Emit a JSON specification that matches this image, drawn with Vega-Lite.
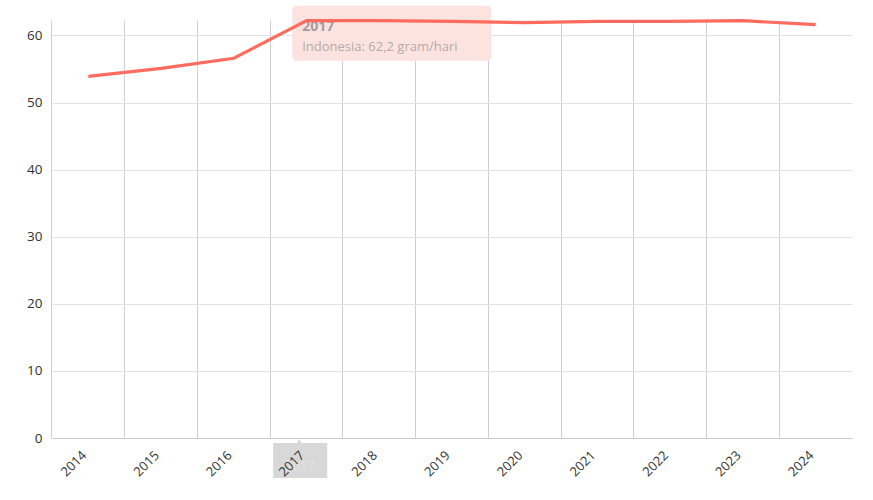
{
  "$schema": "https://vega.github.io/schema/vega-lite/v6.json",
  "width": 800,
  "height": 418,
  "autosize": {"type": "none"},
  "padding": {"left": 52, "top": 20, "right": 21, "bottom": 62},
  "config": {
    "view": {"stroke": null},
    "font": "Open Sans",
    "axis": {"labelFont": "Open Sans", "labelColor": "#333333", "labelFontSize": 13, "title": null}
  },
  "datasets": {
    "series": [
      {"year": "2014", "value": 53.9},
      {"year": "2015", "value": 55.1},
      {"year": "2016", "value": 56.6},
      {"year": "2017", "value": 62.2},
      {"year": "2018", "value": 62.2},
      {"year": "2019", "value": 62.1},
      {"year": "2020", "value": 61.9},
      {"year": "2021", "value": 62.1},
      {"year": "2022", "value": 62.1},
      {"year": "2023", "value": 62.2},
      {"year": "2024", "value": 61.6}
    ],
    "tip": [
      {"year": "2017", "value": 62.2, "title": "2017", "label": "Indonesia: 62,2 gram/hari"}
    ]
  },
  "layer": [
    {
      "data": {"name": "series"},
      "mark": {"type": "line", "opacity": 0},
      "encoding": {
        "x": {"field": "year", "type": "ordinal", "scale": {"paddingInner": 0, "paddingOuter": 0},
          "axis": {"title": null, "labels": false, "ticks": false, "domain": false, "grid": true,
            "bandPosition": 0, "gridColor": "#d0d0d0", "zindex": 0}},
        "y": {"field": "value", "type": "quantitative", "scale": {"domain": [0, 62.3], "nice": false},
          "axis": {"title": null, "values": [0, 10, 20, 30, 40, 50, 60], "ticks": false, "domain": false,
            "gridColor": "#e2e2e2", "labelPadding": 10, "labelFontSize": 13.5}}
      }
    },
    {
      "data": {"name": "tip"},
      "mark": {"type": "rect", "fill": "#fde3e0", "cornerRadius": 4, "xOffset": 22, "x2Offset": 221, "yOffset": -15, "y2Offset": 40, "clip": false},
      "encoding": {
        "x": {"field": "year", "type": "ordinal", "bandPosition": 0, "axis": null},
        "x2": {"field": "year", "bandPosition": 0},
        "y": {"field": "value", "type": "quantitative"},
        "y2": {"field": "value"}
      }
    },
    {
      "data": {"name": "tip"},
      "mark": {"type": "text", "align": "left", "baseline": "alphabetic", "dx": 32, "dy": 10, "fontWeight": "bold", "fontSize": 14, "color": "#a39b9b"},
      "encoding": {
        "x": {"field": "year", "type": "ordinal", "bandPosition": 0, "axis": null},
        "y": {"field": "value", "type": "quantitative"},
        "text": {"field": "title"}
      }
    },
    {
      "data": {"name": "tip"},
      "mark": {"type": "text", "align": "left", "baseline": "alphabetic", "dx": 32, "dy": 30, "fontSize": 13, "color": "#b4aaaa"},
      "encoding": {
        "x": {"field": "year", "type": "ordinal", "bandPosition": 0, "axis": null},
        "y": {"field": "value", "type": "quantitative"},
        "text": {"field": "label"}
      }
    },
    {
      "data": {"name": "series"},
      "mark": {"type": "line", "color": "#ff6b5e", "strokeWidth": 3.2, "interpolate": "linear", "clip": false},
      "encoding": {
        "x": {"field": "year", "type": "ordinal", "axis": null},
        "y": {"field": "value", "type": "quantitative"}
      }
    },
    {
      "data": {"name": "tip"},
      "mark": {"type": "rect", "fill": "#d8d8d8", "xOffset": 3, "x2Offset": 57, "clip": false},
      "encoding": {
        "x": {"field": "year", "type": "ordinal", "bandPosition": 0, "axis": null},
        "x2": {"field": "year", "bandPosition": 0},
        "y": {"datum": -0.75, "type": "quantitative"},
        "y2": {"datum": -5.95}
      }
    },
    {
      "data": {"name": "tip"},
      "mark": {"type": "point", "shape": "triangle-up", "filled": true, "fill": "#d8d8d8", "opacity": 1, "size": 30, "yOffset": 3.5, "clip": false},
      "encoding": {
        "x": {"field": "year", "type": "ordinal", "bandPosition": 0.4, "axis": null},
        "y": {"datum": 0, "type": "quantitative"}
      }
    },
    {
      "data": {"name": "tip"},
      "mark": {"type": "text", "align": "center", "baseline": "alphabetic", "fontSize": 13, "color": "#e4e4e4", "clip": false},
      "encoding": {
        "x": {"field": "year", "type": "ordinal", "bandPosition": 0.41, "axis": null},
        "y": {"datum": -4.8, "type": "quantitative"},
        "text": {"field": "title"}
      }
    },
    {
      "data": {"name": "series"},
      "mark": {"type": "line", "opacity": 0},
      "encoding": {
        "x": {"field": "year", "type": "ordinal",
          "axis": {"title": null, "orient": "bottom", "grid": false, "ticks": false, "domain": true, "domainColor": "#cccccc",
            "labelAngle": -45, "labelAlign": "right", "labelBaseline": "middle", "labelPadding": 15, "labelOffset": -4, "labelFontSize": 13, "zindex": 1}},
        "y": {"field": "value", "type": "quantitative"}
      }
    }
  ],
  "resolve": {"axis": {"x": "independent"}}
}
